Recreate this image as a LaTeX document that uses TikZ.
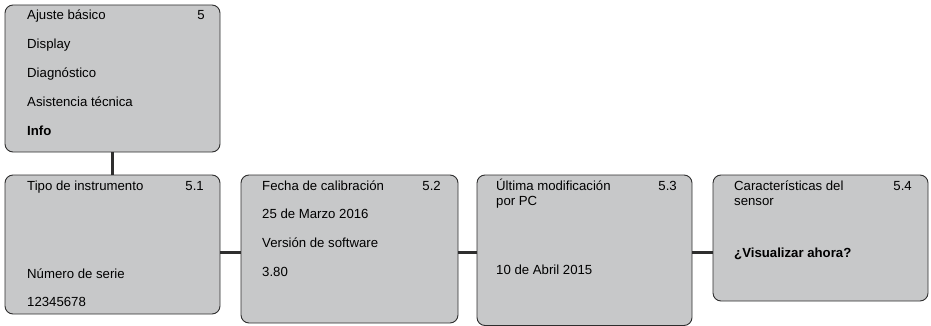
\documentclass[tikz,border=0pt]{standalone}
\usepackage{fontspec}
\setmainfont{Liberation Sans}
\usetikzlibrary{positioning}
\definecolor{menugray}{HTML}{C7C8C9}
\definecolor{menuline}{HTML}{2E2E2E}
\begin{document}
\begin{tikzpicture}[x=1pt,y=-1pt]
                \tikzstyle{menubox}=[draw=menuline,fill=menugray,line width=0.9pt,rounded corners=8pt,inner sep=0pt]
                \tikzstyle{item}=[anchor=base west,inner sep=0pt,font=\fontsize{13.2}{15.5}\selectfont]
                \tikzstyle{num}=[anchor=base east,inner sep=0pt,font=\fontsize{13.2}{15.5}\selectfont]
                \tikzstyle{link}=[draw=menuline,line width=2.4pt]
                \useasboundingbox (0,0) rectangle (931,326);
                \clip (0,0) rectangle (931,326);

                % boxes
                \node[menubox,minimum width=215pt,minimum height=147pt] (info) at (112.5,78.5) {};
                \node[menubox,minimum width=215pt,minimum height=139pt] (tipo) at (112.5,244.5) {};
                \node[menubox,minimum width=217pt,minimum height=148pt] (fecha) at (349.5,249) {};
                \node[menubox,minimum width=215pt,minimum height=150.5pt] (ultima) at (584.5,250.25) {};
                \node[menubox,minimum width=215pt,minimum height=126pt] (caract) at (820.5,238) {};

                % connectors
                \coordinate (row) at (0,252.5);
                \draw[link] (info.south) -- (tipo.north);
                \draw[link] (tipo.east |- row) -- (fecha.west |- row);
                \draw[link] (fecha.east |- row) -- (ultima.west |- row);
                \draw[link] (ultima.east |- row) -- (caract.west |- row);

                % main menu
                \node[item] (ajuste) at (27,19.5) {Ajuste básico};
                \node[num] (n5) at (205,19.5) {5};
                \node[item] (display) at (27,48.5) {Display};
                \node[item] (diag) at (27,77.5) {Diagnóstico};
                \node[item] (asist) at (27,106.5) {Asistencia técnica};
                \node[item] (infotxt) at (27,135.5) {\bfseries Info};

                % 5.1
                \node[item] (tipotxt) at (27,190) {Tipo de instrumento};
                \node[num] (n51) at (204,190) {5.1};
                \node[item] (serie) at (27,278) {Número de serie};
                \node[item] (serienum) at (27,306.5) {12345678};

                % 5.2
                \node[item] (fechatxt) at (262,190) {Fecha de calibración};
                \node[num] (n52) at (441,190) {5.2};
                \node[item] (fechaval) at (262,218.5) {25 de Marzo 2016};
                \node[item] (version) at (262,247.5) {Versión de software};
                \node[item] (versionval) at (262,276.5) {3.80};

                % 5.3
                \node[item] (ultimatxt) at (496,190) {Última modificación};
                \node[item] (porpc) at (496,205.5) {por PC};
                \node[num] (n53) at (677,190) {5.3};
                \node[item] (ultimaval) at (496,274) {10 de Abril 2015};

                % 5.4
                \node[item] (caracttxt) at (734,190) {Características del};
                \node[item] (sensor) at (734,205.5) {sensor};
                \node[num] (n54) at (912,190) {5.4};
                \node[item] (visual) at (734,257) {\bfseries ¿Visualizar ahora?};
            \end{tikzpicture}
\end{document}
